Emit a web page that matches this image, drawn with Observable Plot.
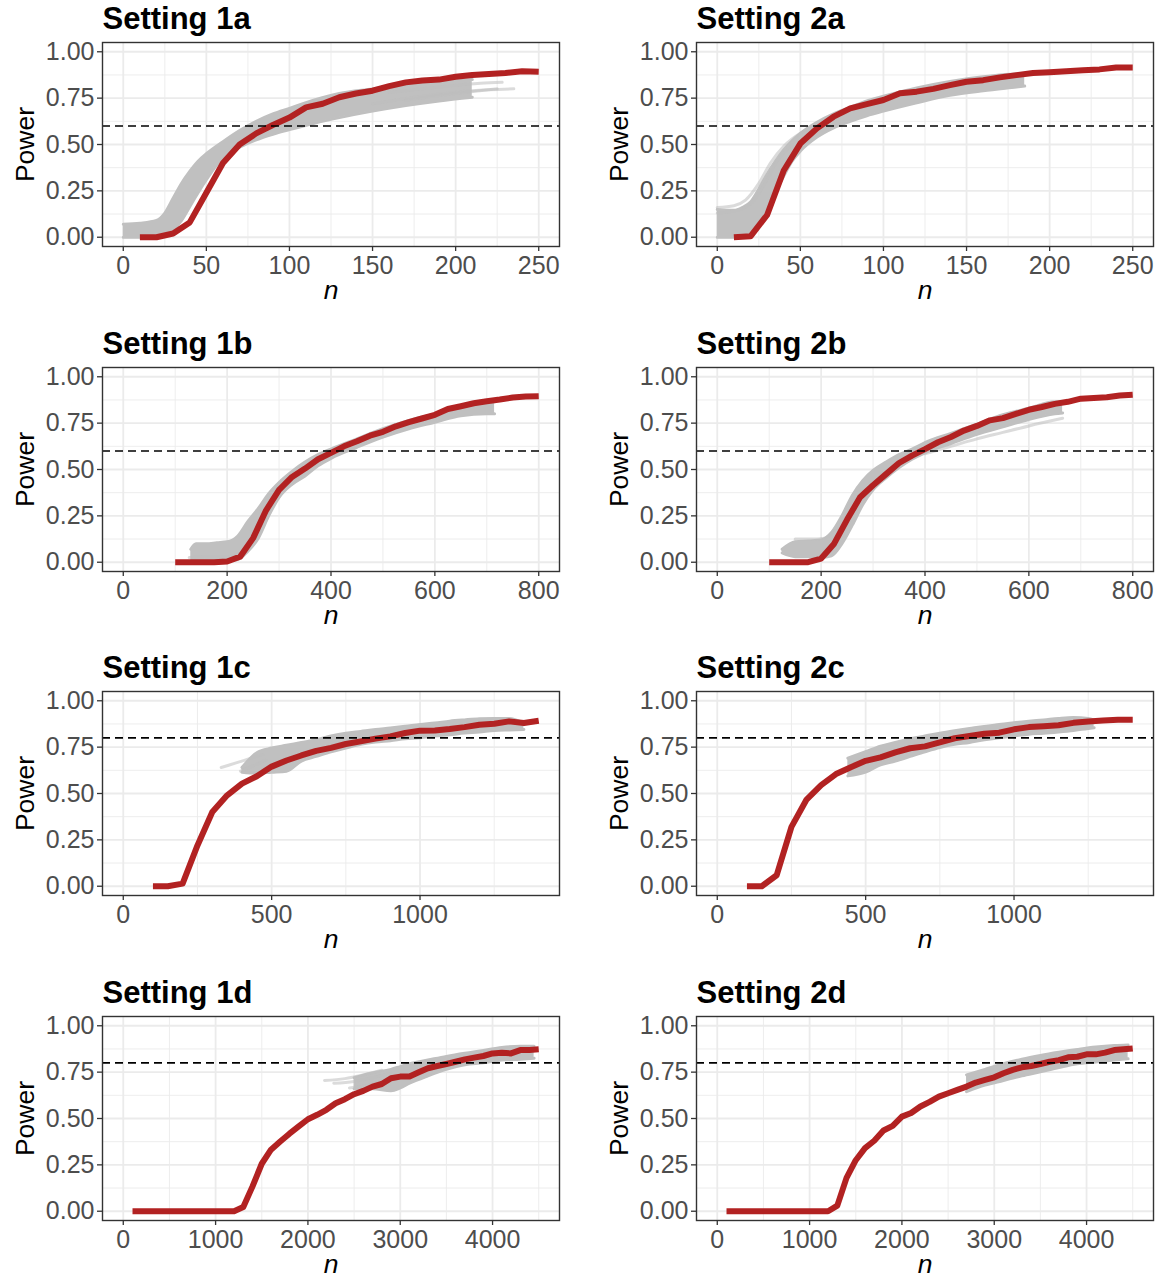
<!DOCTYPE html>
<html><head><meta charset="utf-8">
<script src="https://cdn.jsdelivr.net/npm/d3@7"></script>
<script src="https://cdn.jsdelivr.net/npm/@observablehq/plot@0.6"></script>
<style>
html,body{margin:0;padding:0;background:#fff;}
#wrap{position:relative;width:1158px;height:1279px;overflow:hidden;background:#fff;}
.cell{position:absolute;}
</style></head><body><div id="wrap"></div>
<script>
// ---------- tick labels ----------
const yTicks = [0, 0.25, 0.5, 0.75, 1];
const yMinor = [0.125, 0.375, 0.625, 0.875];
const xTicks_a = [0, 50, 100, 150, 200, 250];
const xMinor_a = [25, 75, 125, 175, 225];
const xTicks_b = [0, 200, 400, 600, 800];
const xMinor_b = [100, 300, 500, 700];
const xTicks_c = [0, 500, 1000];
const xMinor_c = [250, 750, 1250];
const xTicks_d = [0, 1000, 2000, 3000, 4000];
const xMinor_d = [500, 1500, 2500, 3500, 4500];

// ---------- Setting 1a ----------
const red_1a = [[10,0],[20,0],[30,0.02],[40,0.08],[50,0.24],[60,0.40],[70,0.50],[80,0.56],[90,0.605],[100,0.645],[110,0.70],[120,0.72],[130,0.755],[140,0.775],[150,0.79],[160,0.815],[170,0.835],[180,0.845],[190,0.85],[200,0.865],[210,0.875],[220,0.88],[230,0.885],[240,0.895],[250,0.892]];
const band_1a = [[0,0,0.07],[10,0,0.075],[20,0.005,0.09],[25,0.015,0.13],[30,0.04,0.21],[35,0.09,0.29],[40,0.165,0.355],[45,0.24,0.41],[50,0.31,0.45],[60,0.43,0.515],[70,0.485,0.575],[80,0.525,0.625],[90,0.555,0.665],[100,0.58,0.695],[115,0.615,0.74],[130,0.645,0.775],[150,0.68,0.80],[170,0.71,0.825],[190,0.735,0.84],[210,0.755,0.85]];
const extra_1a = [
  [[150,0.72],[180,0.76],[210,0.79],[235,0.80]],
  [[160,0.78],[190,0.81],[215,0.83],[228,0.835]],
  [[170,0.74],[200,0.775],[225,0.80]]
];

// ---------- Setting 2a ----------
const red_2a = [[10,0],[20,0.005],[30,0.12],[40,0.36],[50,0.505],[60,0.587],[70,0.65],[80,0.695],[90,0.718],[100,0.74],[110,0.776],[120,0.785],[130,0.80],[140,0.82],[150,0.838],[160,0.847],[170,0.862],[180,0.874],[190,0.885],[200,0.89],[210,0.895],[220,0.90],[230,0.905],[240,0.915],[250,0.915]];
const band_2a = [[0,0,0.15],[10,0,0.145],[15,0.005,0.16],[20,0.02,0.19],[25,0.07,0.26],[30,0.14,0.34],[35,0.24,0.41],[40,0.33,0.47],[45,0.41,0.52],[50,0.465,0.56],[60,0.54,0.62],[70,0.59,0.665],[80,0.625,0.70],[90,0.655,0.735],[100,0.68,0.76],[120,0.725,0.805],[140,0.765,0.84],[160,0.79,0.865],[180,0.81,0.88],[185,0.815,0.88]];
const extra_2a = [
  [[0,0.16],[10,0.17],[17,0.2],[25,0.29],[32,0.4],[40,0.49],[50,0.56],[60,0.6]],
  [[0,0.13],[10,0.14],[20,0.18],[28,0.28],[36,0.41],[45,0.5]]
];

// ---------- Setting 1b ----------
const red_1b = [[100,0],[125,0],[150,0],[175,0],[200,0.004],[225,0.03],[250,0.13],[275,0.28],[300,0.39],[325,0.46],[350,0.505],[375,0.555],[400,0.59],[425,0.625],[450,0.652],[475,0.682],[500,0.703],[525,0.733],[550,0.755],[575,0.775],[600,0.795],[625,0.826],[650,0.841],[675,0.857],[700,0.868],[725,0.877],[750,0.888],[775,0.893],[800,0.895]];
const band_1b = [[130,0,0.07],[140,0,0.10],[160,0.005,0.10],[180,0.005,0.105],[200,0.01,0.11],[220,0.015,0.14],[240,0.06,0.22],[260,0.13,0.29],[280,0.25,0.37],[300,0.35,0.43],[325,0.42,0.49],[350,0.465,0.54],[375,0.52,0.58],[400,0.56,0.61],[450,0.62,0.665],[500,0.675,0.72],[550,0.72,0.765],[600,0.755,0.80],[650,0.79,0.84],[700,0.80,0.865],[715,0.80,0.865]];
const extra_1b = [
  [[127,0.025],[160,0.03],[200,0.03],[230,0.05]]
];

// ---------- Setting 2b ----------
const red_2b = [[100,0],[125,0],[150,0],[175,0],[200,0.02],[225,0.10],[250,0.23],[275,0.35],[300,0.415],[325,0.475],[350,0.535],[375,0.575],[400,0.61],[425,0.647],[450,0.675],[475,0.71],[500,0.735],[525,0.765],[550,0.777],[575,0.80],[600,0.822],[625,0.837],[650,0.854],[675,0.865],[700,0.882],[725,0.886],[750,0.89],[775,0.899],[800,0.903]];
const band_2b = [[125,0.05,0.07],[150,0.03,0.11],[175,0.03,0.115],[200,0.027,0.12],[220,0.035,0.16],[240,0.10,0.25],[260,0.20,0.36],[280,0.31,0.44],[300,0.39,0.495],[325,0.455,0.54],[350,0.51,0.58],[375,0.555,0.61],[400,0.59,0.645],[450,0.64,0.695],[500,0.69,0.745],[550,0.73,0.795],[600,0.77,0.83],[650,0.80,0.865],[665,0.805,0.865]];
const extra_2b = [
  [[150,0.125],[180,0.125],[207,0.13],[225,0.17]],
  [[400,0.585],[450,0.625],[500,0.665],[550,0.70],[600,0.735],[665,0.776]]
];

// ---------- Setting 1c ----------
const red_1c = [[100,0],[150,0],[200,0.014],[250,0.22],[300,0.40],[350,0.49],[400,0.553],[450,0.593],[500,0.645],[550,0.678],[600,0.705],[650,0.73],[700,0.746],[750,0.767],[800,0.781],[850,0.796],[900,0.808],[950,0.826],[1000,0.839],[1050,0.84],[1100,0.848],[1150,0.858],[1200,0.871],[1250,0.876],[1300,0.889],[1350,0.88],[1400,0.892]];
const band_1c = [[400,0.615,0.64],[450,0.61,0.72],[500,0.615,0.745],[550,0.62,0.76],[600,0.675,0.775],[650,0.70,0.79],[700,0.725,0.81],[750,0.745,0.825],[800,0.765,0.835],[850,0.778,0.845],[900,0.785,0.853],[950,0.795,0.862],[1000,0.80,0.872],[1050,0.81,0.88],[1100,0.817,0.89],[1150,0.826,0.897],[1200,0.832,0.903],[1250,0.84,0.905],[1300,0.843,0.905],[1350,0.845,0.88]];
const extra_1c = [
  [[330,0.64],[380,0.665],[430,0.69],[470,0.71]],
  [[395,0.62],[440,0.65],[480,0.68]]
];

// ---------- Setting 2c ----------
const red_2c = [[100,0],[150,0],[200,0.059],[250,0.32],[300,0.465],[350,0.545],[400,0.605],[450,0.642],[500,0.676],[550,0.695],[600,0.722],[650,0.744],[700,0.754],[750,0.776],[800,0.798],[850,0.81],[900,0.822],[950,0.828],[1000,0.846],[1050,0.858],[1100,0.863],[1150,0.868],[1200,0.881],[1250,0.888],[1300,0.893],[1350,0.898],[1400,0.898]];
const band_2c = [[440,0.595,0.69],[500,0.615,0.725],[550,0.655,0.755],[600,0.675,0.775],[650,0.70,0.795],[700,0.725,0.81],[750,0.748,0.825],[800,0.765,0.838],[850,0.775,0.85],[900,0.79,0.862],[950,0.80,0.872],[1000,0.81,0.882],[1050,0.82,0.89],[1100,0.825,0.897],[1150,0.832,0.905],[1200,0.84,0.91],[1250,0.85,0.905],[1270,0.855,0.895]];
const extra_2c = [];

// ---------- Setting 1d ----------
const red_1d = [[100,0],[200,0],[300,0],[400,0],[500,0],[600,0],[700,0],[800,0],[900,0],[1000,0],[1100,0],[1200,0],[1300,0.023],[1400,0.134],[1500,0.256],[1600,0.332],[1700,0.376],[1800,0.418],[1900,0.457],[2000,0.496],[2100,0.52],[2200,0.547],[2300,0.582],[2400,0.604],[2500,0.631],[2600,0.649],[2700,0.672],[2800,0.686],[2900,0.717],[3000,0.726],[3100,0.726],[3200,0.749],[3300,0.771],[3400,0.783],[3500,0.794],[3600,0.806],[3700,0.819],[3800,0.828],[3900,0.837],[4000,0.851],[4100,0.855],[4200,0.851],[4300,0.869],[4400,0.869],[4500,0.873]];
const band_1d = [[2500,0.66,0.72],[2700,0.66,0.745],[2900,0.65,0.765],[3000,0.665,0.78],[3100,0.69,0.795],[3300,0.73,0.815],[3500,0.765,0.835],[3700,0.79,0.852],[3900,0.80,0.867],[4100,0.815,0.883],[4300,0.82,0.89],[4450,0.825,0.89]];
const extra_1d = [
  [[2180,0.705],[2400,0.715],[2600,0.735],[2800,0.76]],
  [[2280,0.69],[2500,0.70],[2700,0.72],[2900,0.745]],
  [[2450,0.665],[2650,0.68],[2850,0.71]]
];

// ---------- Setting 2d ----------
const red_2d = [[100,0],[200,0],[300,0],[400,0],[500,0],[600,0],[700,0],[800,0],[900,0],[1000,0],[1100,0],[1200,0],[1300,0.03],[1400,0.18],[1500,0.275],[1600,0.34],[1700,0.38],[1800,0.435],[1900,0.46],[2000,0.51],[2100,0.53],[2200,0.565],[2300,0.59],[2400,0.618],[2500,0.636],[2600,0.654],[2700,0.672],[2800,0.694],[2900,0.708],[3000,0.722],[3100,0.744],[3200,0.762],[3300,0.776],[3400,0.783],[3500,0.794],[3600,0.806],[3700,0.815],[3800,0.83],[3900,0.833],[4000,0.846],[4100,0.846],[4200,0.855],[4300,0.869],[4400,0.873],[4500,0.878]];
const band_2d = [[2700,0.645,0.735],[2900,0.68,0.765],[3100,0.705,0.795],[3300,0.73,0.82],[3500,0.752,0.84],[3700,0.775,0.857],[3900,0.795,0.872],[4100,0.805,0.885],[4300,0.815,0.893],[4450,0.822,0.896]];
const extra_2d = [];

const titles = ["Setting 1a","Setting 2a","Setting 1b","Setting 2b","Setting 1c","Setting 2c","Setting 1d","Setting 2d"];

// ---------- panel configuration ----------
const panels = [
  {title: titles[0], red: red_1a, band: band_1a, extra: extra_1a, xDomain: [-12.5, 262.5], xTicks: xTicks_a, xMinor: xMinor_a, hline: 0.6, row: 0, col: 0},
  {title: titles[1], red: red_2a, band: band_2a, extra: extra_2a, xDomain: [-12.5, 262.5], xTicks: xTicks_a, xMinor: xMinor_a, hline: 0.6, row: 0, col: 1},
  {title: titles[2], red: red_1b, band: band_1b, extra: extra_1b, xDomain: [-40, 840], xTicks: xTicks_b, xMinor: xMinor_b, hline: 0.6, row: 1, col: 0},
  {title: titles[3], red: red_2b, band: band_2b, extra: extra_2b, xDomain: [-40, 840], xTicks: xTicks_b, xMinor: xMinor_b, hline: 0.6, row: 1, col: 1},
  {title: titles[4], red: red_1c, band: band_1c, extra: extra_1c, xDomain: [-70, 1470], xTicks: xTicks_c, xMinor: xMinor_c, hline: 0.8, row: 2, col: 0},
  {title: titles[5], red: red_2c, band: band_2c, extra: extra_2c, xDomain: [-70, 1470], xTicks: xTicks_c, xMinor: xMinor_c, hline: 0.8, row: 2, col: 1},
  {title: titles[6], red: red_1d, band: band_1d, extra: extra_1d, xDomain: [-225, 4725], xTicks: xTicks_d, xMinor: xMinor_d, hline: 0.8, row: 3, col: 0},
  {title: titles[7], red: red_2d, band: band_2d, extra: extra_2d, xDomain: [-225, 4725], xTicks: xTicks_d, xMinor: xMinor_d, hline: 0.8, row: 3, col: 1}
];

const FONT = "'Liberation Sans', Arial, Helvetica, sans-serif";
const GRID = "#EBEBEB";
const BAND = "#C0C0C0";
const wrap = document.getElementById("wrap");

function drawPanel(p) {
  const bandData = p.band.map(([x, lo, hi]) => ({x, lo, hi}));
  const extra = p.extra.flatMap((c, i) => c.map(([x, y]) => ({x, y, id: i})));
  const red = p.red.map(([x, y]) => ({x, y}));
  const chart = Plot.plot({
    width: 564, height: 305,
    marginLeft: 102, marginRight: 5, marginTop: 42, marginBottom: 59,
    x: {domain: p.xDomain},
    y: {domain: [-0.05, 1.05]},
    style: {fontFamily: FONT, background: "transparent", overflow: "visible"},
    marks: [
      Plot.ruleY(yMinor, {stroke: GRID, strokeWidth: 0.9}),
      Plot.ruleX(p.xMinor, {stroke: GRID, strokeWidth: 0.9}),
      Plot.ruleY(yTicks, {stroke: GRID, strokeWidth: 1.8}),
      Plot.ruleX(p.xTicks, {stroke: GRID, strokeWidth: 1.8}),
      Plot.areaY(bandData, {x: "x", y1: "lo", y2: "hi", fill: BAND, curve: "monotone-x"}),
      Plot.line(bandData, {x: "x", y: "lo", stroke: BAND, strokeWidth: 3, curve: "monotone-x"}),
      Plot.line(bandData, {x: "x", y: "hi", stroke: BAND, strokeWidth: 3, curve: "monotone-x"}),
      Plot.line(extra, {x: "x", y: "y", z: "id", stroke: "#BEBEBE", strokeOpacity: 0.55, strokeWidth: 3, curve: "monotone-x"}),
      Plot.line(red, {x: "x", y: "y", stroke: "#B22222", strokeWidth: 6, strokeLinejoin: "round", strokeLinecap: "butt"}),
      Plot.ruleY([p.hline], {stroke: "black", strokeWidth: 1.6, strokeDasharray: "8,5"}),
      Plot.frame({stroke: "#333333", strokeWidth: 1.4}),
      Plot.axisX({ticks: p.xTicks, tickFormat: d3.format("d"), tickSize: 5, tickPadding: 5, fontSize: 25, fill: "#4D4D4D", stroke: "#333333", strokeWidth: 1.3, label: null}),
      Plot.axisY({ticks: yTicks, tickFormat: d3.format(".2f"), tickSize: 5, tickPadding: 3, fontSize: 25, fill: "#4D4D4D", stroke: "#333333", strokeWidth: 1.3, label: null}),
      Plot.text([p.title], {text: d => d, frameAnchor: "top-left", dy: -14, lineAnchor: "bottom", textAnchor: "start", fontSize: 31, fontWeight: "bold", fill: "black"}),
      Plot.text(["Power"], {text: d => d, frameAnchor: "left", dx: -69, rotate: -90, lineAnchor: "bottom", textAnchor: "middle", fontSize: 26.5, fill: "black"}),
      Plot.text(["n"], {text: d => d, frameAnchor: "bottom", dy: 52, lineAnchor: "bottom", textAnchor: "middle", fontSize: 26.5, fontStyle: "italic", fill: "black"})
    ]
  });
  const cell = document.createElement("div");
  cell.className = "cell";
  cell.style.left = (p.col ? 594 : 0) + "px";
  cell.style.top = (p.row * 324.7) + "px";
  cell.appendChild(chart);
  wrap.appendChild(cell);
}
panels.forEach(drawPanel);
</script>
</body></html>
